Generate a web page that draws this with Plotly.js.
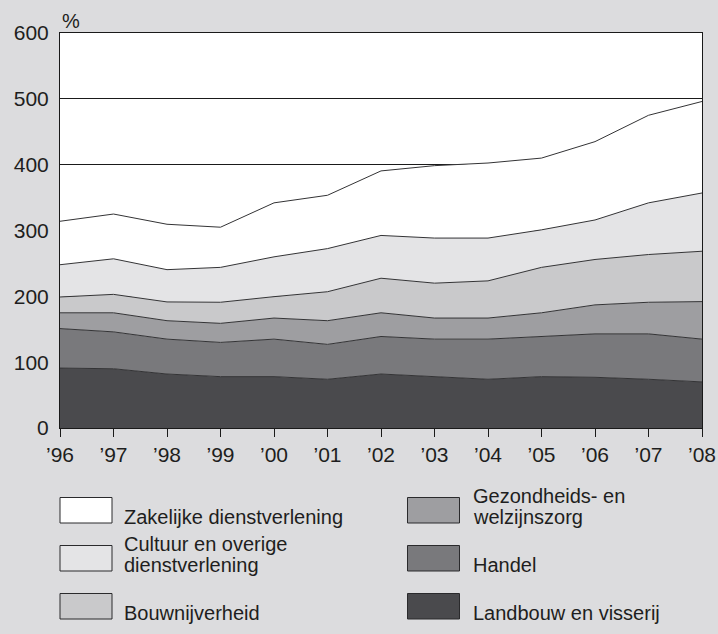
<!DOCTYPE html>
<html>
<head>
<meta charset="utf-8">
<script src="https://cdn.plot.ly/plotly-3.0.1.min.js"></script>
<style>
  html, body { margin: 0; padding: 0; background: #dcdcde; }
  #chart { width: 718px; height: 634px; }
</style>
</head>
<body>
<div id="chart"></div>
<script>
// ---- data ----
const years = [1996, 1997, 1998, 1999, 2000, 2001, 2002, 2003, 2004, 2005, 2006, 2007, 2008];
const yearLabels = ["’96", "’97", "’98", "’99", "’00", "’01", "’02", "’03", "’04", "’05", "’06", "’07", "’08"];

// series, bottom to top of the stack
const landbouw   = [91, 90, 82, 78, 78, 74, 82, 78, 74, 78, 77, 74, 70];
const handel     = [60, 56, 53, 52, 57, 53, 57, 57, 61, 61, 66, 69, 65];
const gezondheid = [24, 29, 28, 29, 32, 36, 36, 32, 32, 36, 44, 48, 57];
const bouw       = [24, 28, 28.5, 32, 32.5, 44, 52.5, 53, 56.5, 69, 69, 72.5, 76.5];
const cultuur    = [49, 54, 49, 53, 60.5, 65.5, 65, 68.5, 65, 57, 60, 78.5, 88.5];
const zakelijk   = [66, 68, 69, 61, 82, 81, 98, 110, 114, 109, 119, 133, 139];

const seriesNames = [
  "Landbouw en visserij",
  "Handel",
  "Gezondheids- en<br>welzijnszorg",
  "Bouwnijverheid",
  "Cultuur en overige<br>dienstverlening",
  "Zakelijke dienstverlening"
];
const seriesValues = [landbouw, handel, gezondheid, bouw, cultuur, zakelijk];
const yTicks = [0, 100, 200, 300, 400, 500, 600];

// ---- styles ----
const fills = ["#4a4a4d", "#79797c", "#9e9ea1", "#c9c9cb", "#e4e4e6", "#ffffff"];
const bg = "#dcdcde";
const ink = "#1e1e20";
const FONT = "Liberation Sans, Arial, sans-serif";

const traces = seriesValues.map((vals, i) => ({
  type: "scatter",
  mode: "lines",
  x: years,
  y: vals,
  name: seriesNames[i],
  stackgroup: "one",
  fillcolor: fills[i],
  line: { color: "#333335", width: 1 },
  hoverinfo: "skip",
  showlegend: false
}));

// pixel -> paper helpers (plot area: x 60..702, y 33..428)
const L = 60, R = 702, T = 33, B = 428;
const px = p => (p - L) / (R - L);
const py = p => (B - p) / (B - T);

// custom legend (two columns, top of stack first)
const legendOrder = [5, 4, 3, 2, 1, 0];
const boxCols = [60, 407.5];
const textCols = [121.5, 471];
const rowTops = [497.5, 545.5, 593.5];
const boxW = 52, boxH = 25.5;
const shapes = [];
const annotations = [];
legendOrder.forEach((si, k) => {
  const col = Math.floor(k / 3), row = k % 3;
  const x0 = boxCols[col], y0 = rowTops[row];
  shapes.push({
    type: "rect", xref: "paper", yref: "paper",
    x0: px(x0), x1: px(x0 + boxW), y0: py(y0 + boxH), y1: py(y0),
    fillcolor: fills[si], line: { color: "#2a2a2c", width: 1 }
  });
  const lines = seriesNames[si].split("<br>");
  const lastBase = y0 + boxH + 0.5;
  lines.forEach((ln, j) => {
    const base = lastBase - (lines.length - 1 - j) * 20.5;
    annotations.push({
      xref: "paper", yref: "paper",
      x: px(textCols[col]), y: py(base - 6.9),
      xanchor: "left", yanchor: "middle",
      text: ln, showarrow: false,
      font: { family: FONT, size: 20, color: ink }
    });
  });
});

annotations.push({
  xref: "paper", yref: "paper",
  x: px(60), y: py(21), xanchor: "left", yanchor: "middle",
  text: "%", showarrow: false,
  font: { family: FONT, size: 20, color: ink }
});

const layout = {
  width: 718, height: 634,
  margin: { l: L, r: 718 - R, t: T, b: 634 - B, pad: 0 },
  paper_bgcolor: bg,
  plot_bgcolor: "#ffffff",
  showlegend: false,
  font: { family: FONT, size: 21, color: ink },
  xaxis: {
    range: [1996, 2008],
    tickmode: "array", tickvals: years, ticktext: yearLabels,
    ticks: "outside", ticklen: 8, tickwidth: 1, tickcolor: "#1a1a1a",
    showgrid: false, zeroline: false,
    showline: true, linecolor: "#1a1a1a", linewidth: 1, mirror: true,
    tickfont: { family: FONT, size: 21, color: ink },
    fixedrange: true
  },
  yaxis: {
    range: [0, 600],
    tickmode: "array", tickvals: yTicks,
    ticks: "", ticklabelstandoff: 6,
    showgrid: true, gridcolor: "#1a1a1a", gridwidth: 1,
    zeroline: false,
    showline: true, linecolor: "#1a1a1a", linewidth: 1, mirror: true,
    tickfont: { family: FONT, size: 21, color: ink },
    fixedrange: true
  },
  shapes: shapes,
  annotations: annotations
};

Plotly.newPlot("chart", traces, layout, { displayModeBar: false, staticPlot: true });
</script>
</body>
</html>
